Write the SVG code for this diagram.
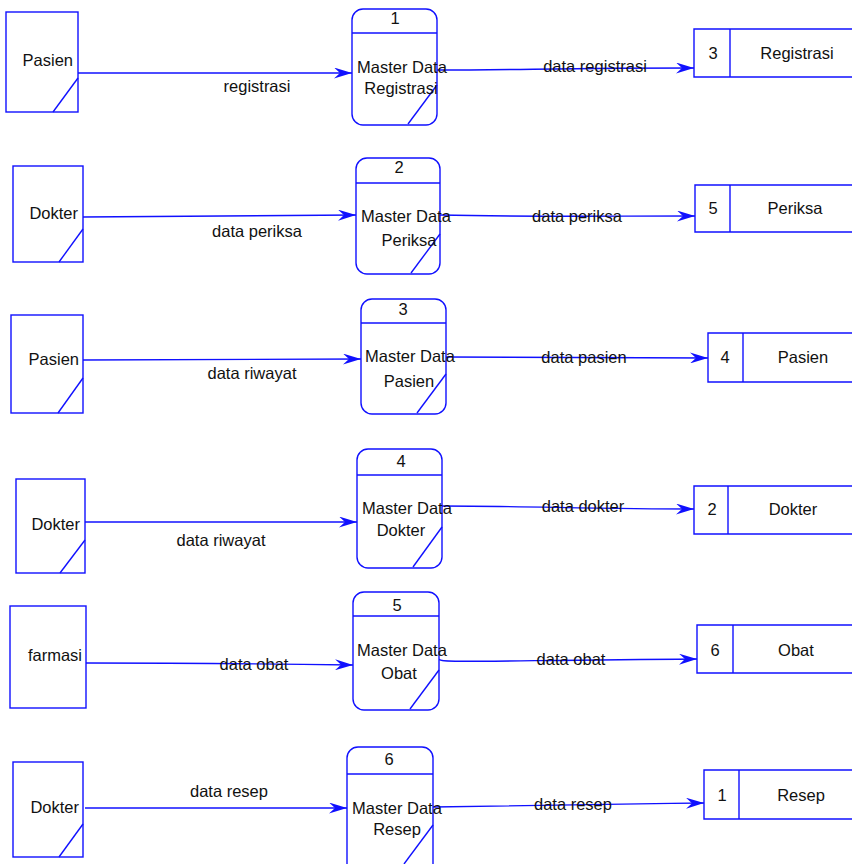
<svg xmlns="http://www.w3.org/2000/svg" width="852" height="864" viewBox="0 0 852 864">
<defs>
<marker id="arr" viewBox="0 0 18 11" refX="18" refY="5.5" markerWidth="18" markerHeight="11" markerUnits="userSpaceOnUse" orient="auto">
<path d="M0,0 L18,5.5 L0,11 L6,5.5 z" fill="#1010ff"/>
</marker>
<style>
.s{fill:#fff;stroke:#1010ff;stroke-width:1.4}
.l{fill:none;stroke:#1010ff;stroke-width:1.4}
.c{fill:none;stroke:#1010ff;stroke-width:1.4;marker-end:url(#arr)}
text{font-family:"Liberation Sans",Arial,sans-serif;font-size:16.5px;fill:#111}
.m{text-anchor:middle}
.e{text-anchor:end}
</style>
</defs>
<rect width="852" height="864" fill="#fff"/>

<g id="connectors">
<path class="c" d="M78,73 L352,73"/>
<path class="c" d="M437,70 C520,70 560,68 694,68"/>
<path class="c" d="M83,217 L356,215"/>
<path class="c" d="M440,215 C520,217 600,216 695,216"/>
<path class="c" d="M83,360 L361,359"/>
<path class="c" d="M446,357 L708,358"/>
<path class="c" d="M85,522 L357,522"/>
<path class="c" d="M442,506 C520,506 600,509 694,509"/>
<path class="c" d="M86,663 C200,663 280,664 353,665"/>
<path class="c" d="M439,659 C440,663 460,661 697,659"/>
<path class="c" d="M85,808 L347,808"/>
<path class="c" d="M433,807 C540,805 620,804 704,803"/>
</g>

<g id="labels">
<text class="m" x="257" y="92">registrasi</text>
<text class="m" x="595" y="72">data registrasi</text>
<text class="m" x="257" y="237">data periksa</text>
<text class="m" x="577" y="222">data periksa</text>
<text class="m" x="252" y="379">data riwayat</text>
<text class="m" x="584" y="363">data pasien</text>
<text class="m" x="221" y="546">data riwayat</text>
<text class="m" x="583" y="512">data dokter</text>
<text class="m" x="254" y="670">data obat</text>
<text class="m" x="571" y="665">data obat</text>
<text class="m" x="229" y="797">data resep</text>
<text class="m" x="573" y="810">data resep</text>
</g>

<g id="entity-pasien-1">
<rect class="s" x="6" y="12" width="72" height="100"/>
<line class="l" x1="78" y1="78" x2="53" y2="112"/>
<text class="e" x="73" y="66">Pasien</text>
</g>
<g id="entity-dokter-2">
<rect class="s" x="13" y="166" width="70" height="96"/>
<line class="l" x1="83" y1="229" x2="59" y2="262"/>
<text class="e" x="78" y="219">Dokter</text>
</g>
<g id="entity-pasien-3">
<rect class="s" x="11" y="315" width="72" height="98"/>
<line class="l" x1="83" y1="378" x2="58" y2="413"/>
<text class="e" x="79" y="365">Pasien</text>
</g>
<g id="entity-dokter-4">
<rect class="s" x="16" y="479" width="69" height="94"/>
<line class="l" x1="85" y1="540" x2="60" y2="573"/>
<text class="e" x="80" y="530">Dokter</text>
</g>
<g id="entity-farmasi">
<rect class="s" x="10" y="606" width="76" height="102"/>
<text class="e" x="82" y="661">farmasi</text>
</g>
<g id="entity-dokter-6">
<rect class="s" x="13" y="762" width="70" height="95"/>
<line class="l" x1="83" y1="824" x2="59" y2="857"/>
<text class="e" x="79" y="813">Dokter</text>
</g>

<g id="process-1">
<rect class="s" x="352" y="9" width="85" height="116" rx="11"/>
<line class="l" x1="352" y1="33" x2="437" y2="33"/>
<line class="l" x1="437" y1="85" x2="408" y2="124"/>
<text class="m" x="395" y="24">1</text>
<text x="357" y="73">Master Data</text>
<text class="m" x="401" y="94">Registrasi</text>
</g>
<g id="process-2">
<rect class="s" x="356" y="158" width="84" height="116" rx="11"/>
<line class="l" x1="356" y1="183" x2="440" y2="183"/>
<line class="l" x1="440" y1="234" x2="411" y2="273"/>
<text class="m" x="399" y="173">2</text>
<text x="361" y="222">Master Data</text>
<text class="m" x="409" y="246">Periksa</text>
</g>
<g id="process-3">
<rect class="s" x="361" y="299" width="85" height="115" rx="11"/>
<line class="l" x1="361" y1="323" x2="446" y2="323"/>
<line class="l" x1="446" y1="374" x2="417" y2="413"/>
<text class="m" x="403" y="315">3</text>
<text x="365" y="362">Master Data</text>
<text class="m" x="409" y="387">Pasien</text>
</g>
<g id="process-4">
<rect class="s" x="357" y="449" width="85" height="119" rx="11"/>
<line class="l" x1="357" y1="475" x2="442" y2="475"/>
<line class="l" x1="442" y1="527" x2="413" y2="567"/>
<text class="m" x="401" y="467">4</text>
<text x="362" y="514">Master Data</text>
<text class="m" x="401" y="536">Dokter</text>
</g>
<g id="process-5">
<rect class="s" x="353" y="592" width="86" height="118" rx="11"/>
<line class="l" x1="353" y1="616" x2="439" y2="616"/>
<line class="l" x1="439" y1="670" x2="410" y2="709"/>
<text class="m" x="397" y="611">5</text>
<text x="357" y="656">Master Data</text>
<text class="m" x="399" y="679">Obat</text>
</g>
<g id="process-6">
<rect class="s" x="347" y="747" width="86" height="130" rx="11"/>
<line class="l" x1="347" y1="774" x2="433" y2="774"/>
<line class="l" x1="433" y1="825" x2="404" y2="864"/>
<text class="m" x="389" y="765">6</text>
<text x="352" y="814">Master Data</text>
<text class="m" x="397" y="835">Resep</text>
</g>

<g id="store-registrasi">
<path class="s" d="M860,29 H694 V77 H860"/>
<line class="l" x1="730" y1="29" x2="730" y2="77"/>
<text class="m" x="713" y="59">3</text>
<text class="m" x="797" y="59">Registrasi</text>
</g>
<g id="store-periksa">
<path class="s" d="M860,185 H695 V232 H860"/>
<line class="l" x1="730" y1="185" x2="730" y2="232"/>
<text class="m" x="713" y="214">5</text>
<text class="m" x="795" y="214">Periksa</text>
</g>
<g id="store-pasien">
<path class="s" d="M860,333 H708 V382 H860"/>
<line class="l" x1="743" y1="333" x2="743" y2="382"/>
<text class="m" x="725" y="363">4</text>
<text class="m" x="803" y="363">Pasien</text>
</g>
<g id="store-dokter">
<path class="s" d="M860,486 H694 V534 H860"/>
<line class="l" x1="728" y1="486" x2="728" y2="534"/>
<text class="m" x="712" y="515">2</text>
<text class="m" x="793" y="515">Dokter</text>
</g>
<g id="store-obat">
<path class="s" d="M860,625 H697 V673 H860"/>
<line class="l" x1="733" y1="625" x2="733" y2="673"/>
<text class="m" x="715" y="656">6</text>
<text class="m" x="796" y="656">Obat</text>
</g>
<g id="store-resep">
<path class="s" d="M860,770 H704 V819 H860"/>
<line class="l" x1="739" y1="770" x2="739" y2="819"/>
<text class="m" x="722" y="801">1</text>
<text class="m" x="801" y="801">Resep</text>
</g>
</svg>
